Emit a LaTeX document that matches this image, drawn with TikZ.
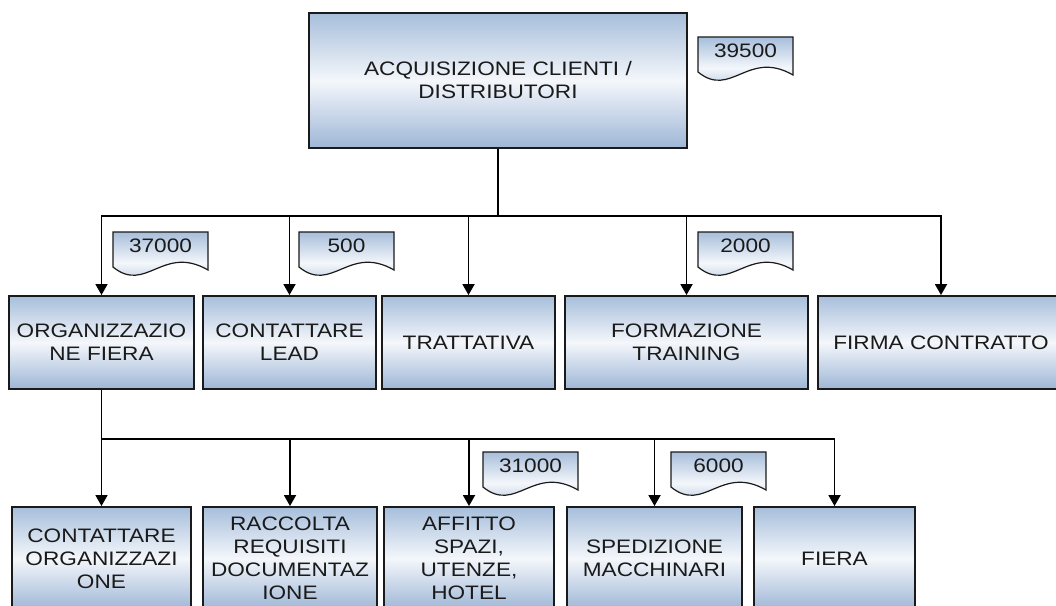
\documentclass[tikz,border=0pt]{standalone}
\usepackage{fontspec}
\newfontfamily\chartfont[FakeStretch=1.16]{Liberation Sans}
\usetikzlibrary{arrows.meta}

\definecolor{fillTop}{HTML}{A7BEDB}
\definecolor{fillMid}{HTML}{F4F7FB}
\definecolor{fillBot}{HTML}{9EB6D6}
\definecolor{ink}{HTML}{1A1A1A}

\tikzset{
  x=1pt, y=-1pt,
  labelfont/.style={font=\chartfont\fontsize{19.5}{23}\selectfont, text=ink},
  task/.style={labelfont, draw=ink, line width=1.9pt,
    top color=fillTop, bottom color=fillBot, middle color=fillMid,
    inner sep=0pt, align=center},
  costshape/.style={draw=ink, line width=1.2pt,
    top color=fillTop, bottom color=fillBot, middle color=fillMid},
  costtext/.style={labelfont, inner sep=0pt},
  link/.style={draw=black, line width=1.8pt},
  arrowlink/.style={link, -{Triangle[length=11pt,width=12pt]}},
}

% cost tag: document shape with a wavy lower edge
% #1 node name, #2 left x, #3 top y, #4 amount
\newcommand\costtag[4]{%
  \shade[costshape] (#2,#3) -- (#2+95,#3) -- (#2+95,#3+38)
    .. controls (#2+50,#3+12) and (#2+33,#3+62) .. (#2,#3+35) -- cycle;
  \node[costtext] (#1) at (#2+47.5,#3+14) {#4};
}

\begin{document}
\begin{tikzpicture}
\useasboundingbox (0,0) rectangle (1056,605);
\fill[white] (0,0) rectangle (1056,605);

% root activity
\node[task, minimum width=378pt, minimum height=135pt] (acq) at (498,80.5)
  {ACQUISIZIONE CLIENTI /\\DISTRIBUTORI};

% second level
\node[task, minimum width=185pt, minimum height=93pt] (org)   at (101.5,342.5) {ORGANIZZAZIO\\NE FIERA};
\node[task, minimum width=173pt, minimum height=93pt] (lead)  at (289.5,342.5) {CONTATTARE\\LEAD};
\node[task, minimum width=173pt, minimum height=93pt] (tratt) at (468.5,342.5) {TRATTATIVA};
\node[task, minimum width=243pt, minimum height=93pt] (form)  at (686.5,342.5) {FORMAZIONE\\TRAINING};
\node[task, minimum width=246pt, minimum height=93pt] (firma) at (941,342.5)   {FIRMA CONTRATTO};

% third level (trade fair)
\node[task, minimum width=179pt, minimum height=103pt] (corg)  at (101.5,558.5) {CONTATTARE\\ORGANIZZAZI\\ONE};
\node[task, minimum width=174pt, minimum height=103pt] (racc)  at (290,558.5)   {RACCOLTA\\REQUISITI\\DOCUMENTAZ\\IONE};
\node[task, minimum width=170pt, minimum height=103pt] (affi)  at (469,558.5)   {AFFITTO\\SPAZI,\\UTENZE,\\HOTEL};
\node[task, minimum width=175pt, minimum height=103pt] (sped)  at (654.5,558.5) {SPEDIZIONE\\MACCHINARI};
\node[task, minimum width=161pt, minimum height=103pt] (fiera) at (834.5,558.5) {FIERA};

% cost tags
\costtag{c39500}{698}{37}{39500}
\costtag{c37000}{113}{232}{37000}
\costtag{c500}{299}{232}{500}
\costtag{c2000}{698}{232}{2000}
\costtag{c31000}{483}{452}{31000}
\costtag{c6000}{671}{452}{6000}

% connectors, first branch
\coordinate (hub1) at (498,216);
\draw[link] (acq.south) -- (hub1);
\draw[arrowlink] (hub1) -| (org.north);
\draw[arrowlink] (hub1) -| (lead.north);
\draw[arrowlink] (hub1) -| (tratt.north);
\draw[arrowlink] (hub1) -| (form.north);
\draw[arrowlink] (hub1) -| (firma.north);

% connectors, trade fair branch
\coordinate (hub2) at (101.5,439);
\draw[arrowlink] (org.south) -- (corg.north);
\draw[arrowlink] (hub2) -| (racc.north);
\draw[arrowlink] (hub2) -| (affi.north);
\draw[arrowlink] (hub2) -| (sped.north);
\draw[arrowlink] (hub2) -| (fiera.north);
\end{tikzpicture}
\end{document}
